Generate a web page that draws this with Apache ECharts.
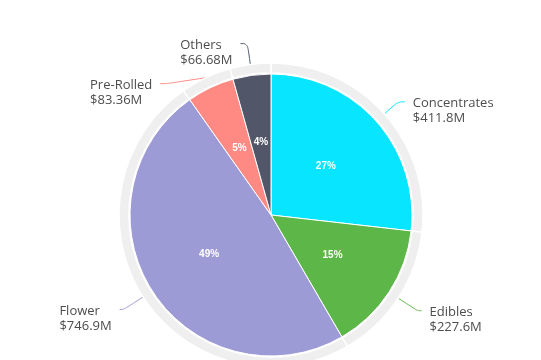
<!DOCTYPE html>
<html>
<head>
<meta charset="utf-8">
<script src="https://cdn.jsdelivr.net/npm/echarts@6/dist/echarts.min.js"></script>
<style>html,body{margin:0;padding:0;background:#fff;}#c{width:541px;height:360px;}</style>
</head>
<body>
<div id="c"></div>
<script>
const categories = ['Concentrates', 'Edibles', 'Flower', 'Pre-Rolled', 'Others'];
const values = [411.8, 227.6, 746.9, 83.36, 66.68];
const valueLabels = ['$411.8M', '$227.6M', '$746.9M', '$83.36M', '$66.68M'];
const colors = ['#08e6ff', '#5db648', '#9d9bd6', '#ff8a84', '#525669'];
const lineLengths = [18, 23, 23, 18, 21];
const lineLengths2 = [7, 4, 4, 7, 7];

const center = [271, 215];
const mainData = categories.map((n, i) => ({ name: n, value: values[i], itemStyle: { color: colors[i] } }));
const ringData = categories.map((n, i) => ({
  name: n, value: values[i],
  labelLine: { length: lineLengths[i], length2: lineLengths2[i], lineStyle: { color: colors[i] } }
}));

const chart = echarts.init(document.getElementById('c'));
chart.setOption({
  animation: false,
  series: [
    {
      type: 'pie', silent: true, center: center, radius: [142, 152],
      startAngle: 90, clockwise: true, avoidLabelOverlap: true,
      itemStyle: { color: '#efefef', borderColor: '#fff', borderWidth: 1.5 },
      data: ringData,
      label: {
        show: true, position: 'outside',
        formatter: p => '{l|' + p.name + '}\n{l|' + valueLabels[p.dataIndex] + '}',
        rich: { l: { align: 'left', fontFamily: 'Open Sans', fontSize: 13, lineHeight: 15, color: '#4d4d4d' } },
        fontFamily: 'Open Sans', fontSize: 13, lineHeight: 15, color: '#4d4d4d',
        padding: [9, 0, -9, 0], distanceToLabelLine: 8
      },
      labelLine: { show: true, length: 18, length2: 7, smooth: 0.4, lineStyle: { width: 1 } }
    },
    {
      type: 'pie', silent: true, center: center, radius: [0, 141],
      startAngle: 90, clockwise: true,
      itemStyle: { borderColor: '#fff', borderWidth: 1 },
      data: mainData,
      label: {
        show: true, position: 'inside',
        formatter: p => Math.round(p.percent) + '%',
        color: '#fff', fontFamily: 'Liberation Sans', fontSize: 10, fontWeight: 'bold'
      },
      labelLine: { show: false }
    }
  ]
});
</script>
</body>
</html>
